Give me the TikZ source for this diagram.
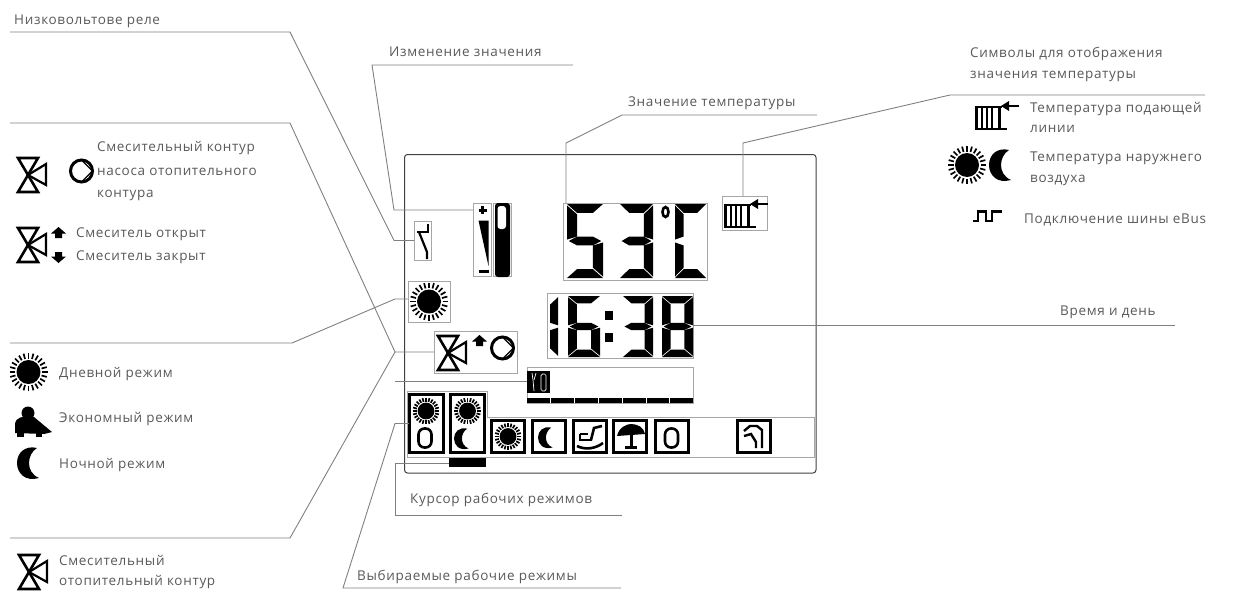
\documentclass[tikz,border=0pt]{standalone}
\usepackage{fontspec}
\setmainfont[LetterSpace=5]{Open Sans}

% segments of one display digit, unit square
\newcommand{\sega}{\fill (0,0) -- (1,0) -- (.72,.12) -- (.28,.12) -- cycle;}
\newcommand{\segb}{\fill (1,.02) -- (1,.48) -- (.72,.44) -- (.72,.14) -- cycle;}
\newcommand{\segc}{\fill (1,.52) -- (1,.98) -- (.72,.86) -- (.72,.56) -- cycle;}
\newcommand{\segd}{\fill (0,1) -- (1,1) -- (.72,.88) -- (.28,.88) -- cycle;}
\newcommand{\sege}{\fill (0,.52) -- (0,.98) -- (.28,.86) -- (.28,.56) -- cycle;}
\newcommand{\segf}{\fill (0,.02) -- (0,.48) -- (.28,.44) -- (.28,.14) -- cycle;}
\newcommand{\segg}{\fill (.05,.5) -- (.28,.44) -- (.72,.44) -- (.95,.5) -- (.72,.56) -- (.28,.56) -- cycle;}
\newcommand{\segdigit}[5]{%
  \begin{scope}[shift={(#1,#2)}, x=#3pt, y=-#4pt]
    \foreach \s in {#5} {\csname seg\s\endcsname}
  \end{scope}}

\tikzset{
  sunpic/.pic={
    \fill (0,0) circle (12);
    \foreach \a in {0,15,...,345}
      \draw[line width=1.7pt] (\a:13.5) -- (\a:19);
  },
  moonpic/.pic={
    \fill (20,1) .. controls (8,-2) and (0,6) .. (0,16)
      .. controls (0,26) and (8,35) .. (22,31)
      .. controls (15,28) and (12,22) .. (12,16)
      .. controls (12,10) and (15,4) .. (20,1) -- cycle;
  },
  valvepic/.pic={
    \draw[line width=2.6pt, line join=miter] (1,1) -- (21,1) -- (1,35) -- (21,35) -- cycle;
    \draw[line width=2.2pt, line join=miter] (11,18) -- (29,7) -- (29,28) -- cycle;
  },
  pumppic/.pic={
    \draw[line width=3pt] (0,0) circle (11);
    \draw[line width=1.2pt] (0,-11) -- (11,0) -- (0,11);
  },
  uppic/.pic={
    \fill (0,6.5) -- (7.5,0) -- (15,6.5) -- (11,6.5) -- (11,11) -- (4,11) -- (4,6.5) -- cycle;
  },
  downpic/.pic={
    \fill (0,4.5) -- (7.5,11) -- (15,4.5) -- (11,4.5) -- (11,0) -- (4,0) -- (4,4.5) -- cycle;
  },
  radpic/.pic={
    \draw[line width=3pt] (1.5,8) -- (1.5,29);
    \draw[line width=2.2pt] (0,7) -- (27,7);
    \draw[line width=2.6pt] (0,29) -- (32,29);
    \foreach \x in {7,12,17}
      \draw[line width=1.4pt] (\x,7) -- (\x,29);
    \draw[line width=3pt] (24,7) -- (24,29);
    \draw[line width=2.6pt] (44,6) -- (33,6);
    \fill (26,6) -- (34,1) -- (34,11) -- cycle;
  },
  buspic/.pic={
    \draw[line width=2.2pt, line join=miter] (0,11) -- (5,11) -- (5,1.5) -- (13,1.5)
      -- (13,11) -- (19,11) -- (19,1.5) -- (29,1.5);
  },
  seatpic/.pic={
    \fill (14,8) circle (6.5);
    \fill (1,28) -- (1,19) .. controls (2,12) and (8,11) .. (20,12) -- (38,27) -- (30,29) -- cycle;
    \fill (3,28) rectangle (10,32);
    \fill (22,28) rectangle (28,32);
  },
  chairpic/.pic={
    \draw[line width=2.6pt] (25,1) -- (17,3) -- (14,15);
    \draw[line width=2.6pt] (3,9) -- (3,15) -- (15,15);
    \draw[line width=2.4pt] (3,9) -- (11,9);
    \draw[line width=2.6pt] (0,21) .. controls (8,25) and (18,24) .. (26,18);
  },
  umbrellapic/.pic={
    \fill (0,12) .. controls (2,3) and (10,0) .. (14,0) .. controls (20,0) and (27,3) .. (28,10) -- cycle;
    \draw[line width=3pt] (14,5) -- (14,22);
    \draw[line width=3pt] (8,23) -- (20,23);
  },
  stairpic/.pic={
    \draw[line width=2.4pt] (1,7) -- (7,2) -- (14,2) -- (19,6) -- (19,24);
    \draw[line width=2.4pt] (1,12) -- (8,10) -- (13,18) -- (13,24);
  },
  zeropic/.pic={
    \draw[line width=2.6pt, rounded corners=6pt] (0,0) rectangle (13,19);
  },
}

\begin{document}
\begin{tikzpicture}[
  x=1pt, y=-1pt,
  leader/.style={draw=black!50, line width=.9pt},
  lcd_box/.style={rectangle, draw=black!35, line width=1pt, inner sep=0pt, outer sep=0pt},
  mode_frame/.style={rectangle, draw=black, line width=3pt, inner sep=0pt, outer sep=0pt},
  txt/.style={anchor=west, inner sep=0pt, text=black!65, font=\fontsize{13.5}{16}\selectfont},
]
  \useasboundingbox (0,0) rectangle (1249,592);

  % Display outline
  \draw[black!75, line width=1pt, rounded corners=3pt] (404.5,154.5) rectangle (816,473);

  % Boxes round the display elements
  \node[lcd_box, minimum width=17pt, minimum height=39pt] at (422.5,240.5) (relay_box) {};
  \node[lcd_box, minimum width=18.5pt, minimum height=73pt] at (482.5,239.5) (plus_box) {};
  \node[lcd_box, minimum width=18.5pt, minimum height=73pt] at (502.5,239.5) (therm_box) {};
  \node[lcd_box, minimum width=144pt, minimum height=77pt] at (635,241.5) (temp_box) {};
  \node[lcd_box, minimum width=45pt, minimum height=34pt] at (744.5,213) (rad_box) {};
  \node[lcd_box, minimum width=42pt, minimum height=41pt] at (429,301.5) (sun_box) {};
  \node[lcd_box, minimum width=146pt, minimum height=65pt] at (620,325.5) (clock_box) {};
  \node[lcd_box, minimum width=83pt, minimum height=42pt] at (475.5,352) (valve_box) {};
  \node[lcd_box, minimum width=166pt, minimum height=36pt] at (610,385) (info_box) {};
  \draw[black!35, line width=1pt] (407,391) -- (487,391) -- (487,417) -- (814,417)
    -- (814,457) -- (407,457) -- cycle;

  % Text labels
  \node[txt] at (14,21) (relay_txt) {Низковольтове реле};
  \node[txt] at (389,52) (change_txt) {Изменение значения};
  \node[txt] at (628,103) (value_txt) {Значение температуры};
  \node[txt] at (970,54) (sym_a_txt) {Символы для отображения};
  \node[txt] at (970,76) (sym_b_txt) {значения температуры};
  \node[txt] at (1030,109) (flow_a_txt) {Температура подающей};
  \node[txt] at (1030,129) (flow_b_txt) {линии};
  \node[txt] at (1030,158) (out_a_txt) {Температура наружнего};
  \node[txt] at (1030,180) (out_b_txt) {воздуха};
  \node[txt] at (1024,220) (bus_txt) {Подключение шины eBus};
  \node[txt] at (1060,312) (time_txt) {Время и день};
  \node[txt] at (97,148) (pump_a_txt) {Смесительный контур};
  \node[txt] at (97,172) (pump_b_txt) {насоса отопительного};
  \node[txt] at (97,195) (pump_c_txt) {контура};
  \node[txt] at (76,234) (open_txt) {Смеситель открыт};
  \node[txt] at (76,257) (shut_txt) {Смеситель закрыт};
  \node[txt] at (59,374) (day_txt) {Дневной режим};
  \node[txt] at (59,419) (eco_txt) {Экономный режим};
  \node[txt] at (59,465) (night_txt) {Ночной режим};
  \node[txt] at (59,560) (mix_a_txt) {Смесительный};
  \node[txt] at (59,582) (mix_b_txt) {отопительный контур};
  \node[txt] at (410,500) (cursor_txt) {Курсор рабочих режимов};
  \node[txt] at (357,577) (select_txt) {Выбираемые рабочие режимы};

  % Mode frames
  \foreach \n/\x in {one/426, two/467.5}
    \node[mode_frame, minimum width=34pt, minimum height=58pt] at (\x,423.5) (mode_\n) {};
  \foreach \n/\x in {three/508, four/548.5, five/589.5, six/630, seven/671.5, eight/754}
    \node[mode_frame, minimum width=33pt, minimum height=32pt] at (\x,436.5) (mode_\n) {};
  \node[rectangle, fill=black, inner sep=0pt, minimum width=37pt, minimum height=9pt] at (467.5,462.5) (cursor_bar) {};

  % Bends and free ends of the leaders
  \coordinate (relay_a) at (10,32);
  \coordinate (relay_b) at (290,32);
  \coordinate (relay_c) at (394,240.5);
  \coordinate (change_a) at (573,65);
  \coordinate (change_b) at (372,65);
  \coordinate (change_c) at (394,210);
  \coordinate (value_a) at (817,115);
  \coordinate (value_b) at (622,115);
  \coordinate (value_c) at (566,143);
  \coordinate (sym_a) at (1205,95);
  \coordinate (sym_b) at (950,95);
  \coordinate (sym_c) at (743,143);
  \coordinate (time_a) at (1175,325.5);
  \coordinate (day_a) at (10,343);
  \coordinate (day_b) at (292,343);
  \coordinate (day_c) at (395,299);
  \coordinate (pump_a) at (10,123);
  \coordinate (pump_b) at (290,123);
  \coordinate (pump_c) at (395,352);
  \coordinate (mix_a) at (10,538);
  \coordinate (mix_b) at (290,538);
  \coordinate (stub_a) at (395,381);
  \coordinate (cursor_a) at (622,515);
  \coordinate (cursor_b) at (395,515);
  \coordinate (cursor_c) at (395,463);
  \coordinate (select_a) at (621,588);
  \coordinate (select_b) at (343,588);
  \coordinate (select_c) at (395,423.5);

  % Leaders
  \draw[leader] (relay_a) -- (relay_b) -- (relay_c) -- (relay_box.west);
  \draw[leader] (change_a) -- (change_b) -- (change_c) -- (change_c -| plus_box.west);
  \draw[leader] (value_a) -- (value_b) -- (value_c) -- (value_c |- temp_box.north);
  \draw[leader] (sym_a) -- (sym_b) -- (sym_c) -- (sym_c |- rad_box.north);
  \draw[leader] (time_a) -- (clock_box.east);
  \draw[leader] (day_a) -- (day_b) -- (day_c) -- (day_c -| sun_box.west);
  \draw[leader] (pump_a) -- (pump_b) -- (pump_c) -- (valve_box.west);
  \draw[leader] (mix_a) -- (mix_b) -- (pump_c);
  \draw[leader] (stub_a) -- (stub_a -| info_box.west);
  \draw[leader] (cursor_a) -- (cursor_b) -- (cursor_c) -- (cursor_c -| cursor_bar.west);
  \draw[leader] (select_a) -- (select_b) -- (select_c) -- (mode_one.west);

  % Temperature digits
  \segdigit{567}{204}{36}{74}{a,f,g,c,d}
  \segdigit{620}{204}{33}{74}{a,b,g,c,d}
  \draw[line width=2.6pt] (665.5,212) ellipse [x radius=3, y radius=5];
  \segdigit{675}{204}{31}{74}{a,f,e,d}

  % Clock digits
  \segdigit{530}{296}{28}{61}{b,c}
  \segdigit{568}{296}{32}{61}{a,f,g,e,c,d}
  \fill (605,311) rectangle (613,320);
  \fill (605,333) rectangle (613,342);
  \segdigit{623}{296}{30}{61}{a,b,g,c,d}
  \segdigit{662}{296}{31}{61}{a,b,c,d,e,f,g}

  % Info line
  \fill (527,371) rectangle (550,393);
  \draw[white, line width=.7pt] (532,373) -- (533,380) -- (534,391);
  \draw[white, line width=.7pt] (536,373) -- (534,380);
  \draw[white, line width=.7pt, rounded corners=1.5pt] (541,374) rectangle (546,391);
  \foreach \i in {0,...,6}
    \fill ({527+\i*23.9},398) rectangle ++(22.9,5);

  % Relay, bars and thermometer
  \draw[line width=2.2pt, line join=miter] (428,224) -- (428,232) -- (417,232);
  \draw[line width=2.2pt, line join=miter] (419,232) -- (427,252) -- (427,259);
  \draw[line width=3pt] (482.7,206) -- (482.7,214);
  \draw[line width=3pt] (478.7,210) -- (486.7,210);
  \fill (478.5,220.5) -- (488.5,220.5) -- (488.5,266) -- cycle;
  \fill (478.5,270) rectangle (488.5,273);
  \fill[rounded corners=3pt] (495,203) rectangle (510,277);
  \fill[white, rounded corners=3pt] (497.5,206) rectangle (506,229);

  % Icons inside the display
  \pic at (724,198) {radpic};
  \pic at (429,301.5) {sunpic};
  \pic at (437,335) {valvepic};
  \pic at (472,335) {uppic};
  \pic at (502.5,348) {pumppic};
  \pic[scale=.7] at (426,411) {sunpic};
  \pic[scale=.7] at (467.5,411) {sunpic};
  \pic at (418.5,428.5) {zeropic};
  \pic[scale=.66] at (454,428) {moonpic};
  \pic[scale=.7] at (508,436.5) {sunpic};
  \pic[scale=.66] at (538,427) {moonpic};
  \pic at (577,425) {chairpic};
  \pic at (617,424) {umbrellapic};
  \pic at (665,428.5) {zeropic};
  \pic at (743,424) {stairpic};

  % Legend icons
  \pic at (17,157) {valvepic};
  \pic at (81.5,171) {pumppic};
  \pic at (17,227) {valvepic};
  \pic at (51,227) {uppic};
  \pic at (51,252) {downpic};
  \pic at (28.5,372) {sunpic};
  \pic at (14,405) {seatpic};
  \pic at (17,447) {moonpic};
  \pic at (18,554) {valvepic};
  \pic at (975,100) {radpic};
  \pic at (967,165) {sunpic};
  \pic at (989,149) {moonpic};
  \pic at (973,210) {buspic};
\end{tikzpicture}
\end{document}
